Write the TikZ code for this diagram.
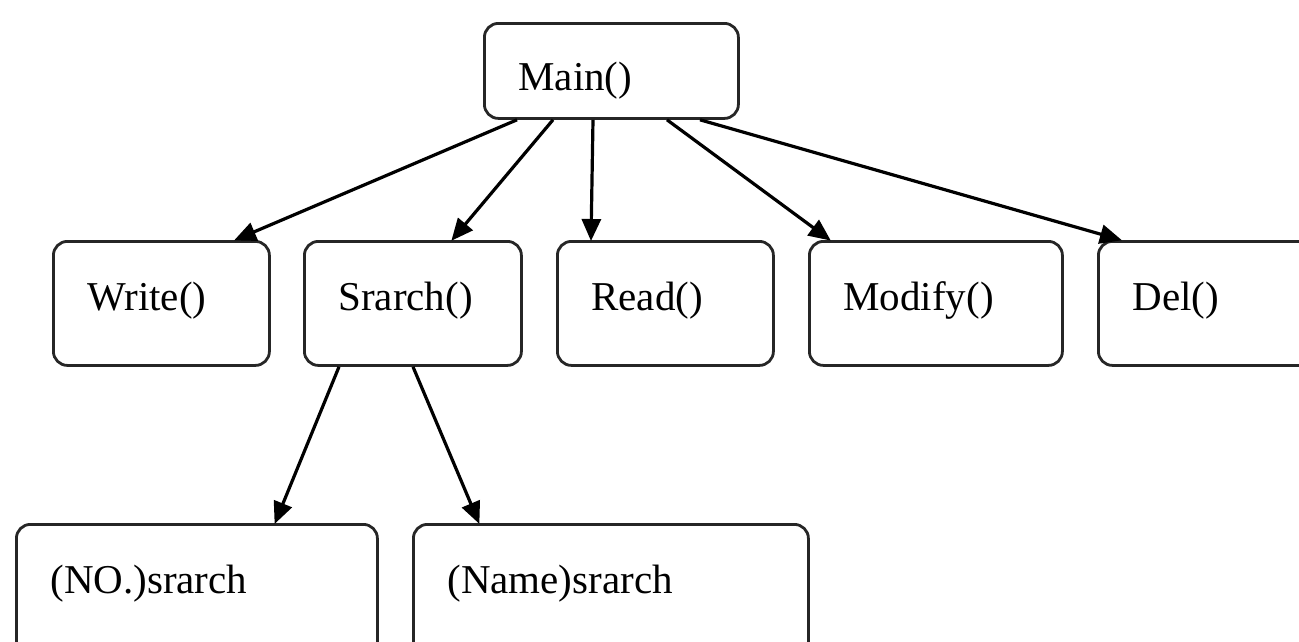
\documentclass[tikz,border=0pt]{standalone}
\usepackage{fontspec}
\setmainfont{Liberation Serif}
\usetikzlibrary{arrows.meta}
\tikzset{
  box/.style={draw=black!85, line width=2.8pt, rounded corners=14pt, anchor=north west,
    inner xsep=34pt, inner ysep=0pt, align=left, font=\fontsize{41}{48}\selectfont, fill=white,
    text height=69pt},
  rowbox/.style={box, text depth=55pt},
  lowbox/.style={box, text depth=81pt},
  arr/.style={line width=3.2pt, -{Triangle[length=22pt,width=19pt]}, shorten >=-1pt}
}
\begin{document}
\begin{tikzpicture}[x=1pt,y=-1pt]
\useasboundingbox (0,0) rectangle (1299,641);
\clip (0,0) rectangle (1299,641);
\node[box, text width=186pt, text height=67pt, text depth=28pt] (main) at (483,22) {Main()};
\node[rowbox, text width=148pt] (write) at (52,240) {Write()};
\node[rowbox, text width=149pt] (srarch) at (303,240) {Srarch()};
\node[rowbox, text width=148pt] (read) at (556,240) {Read()};
\node[rowbox, text width=185pt] (modify) at (808,240) {Modify()};
\node[rowbox, text width=182pt] (del) at (1097,240) {Del()};
\node[lowbox, text width=293pt] (no) at (15,523) {(NO.)srarch};
\node[lowbox, text width=327pt] (name) at (412,523) {(Name)srarch};
\draw[arr] ([xshift=34pt]main.south west) -- ([xshift=183pt]write.north west);
\draw[arr] ([xshift=70pt]main.south west) -- ([xshift=149pt]srarch.north west);
\draw[arr] ([xshift=110pt]main.south west) -- ([xshift=35pt]read.north west);
\draw[arr] ([xshift=184pt]main.south west) -- ([xshift=22pt]modify.north west);
\draw[arr] ([xshift=217pt]main.south west) -- ([xshift=24pt]del.north west);
\draw[arr] ([xshift=36pt]srarch.south west) -- ([xshift=260pt]no.north west);
\draw[arr] ([xshift=110pt]srarch.south west) -- ([xshift=67pt]name.north west);
\end{tikzpicture}
\end{document}
